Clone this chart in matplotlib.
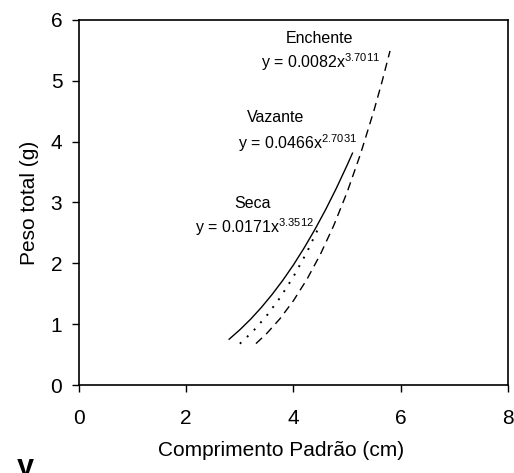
import matplotlib
matplotlib.use("Agg")
import matplotlib.pyplot as plt

plt.rcParams['font.family'] = ['Liberation Sans', 'DejaVu Sans']
plt.rcParams['mathtext.fontset'] = 'custom'
plt.rcParams['mathtext.rm'] = 'Liberation Sans'
plt.rcParams['mathtext.it'] = 'Liberation Sans'

# Points
vazante_x = [2.8, 3.0, 3.2, 3.4, 3.6, 3.8, 4.0, 4.2, 4.4, 4.6, 4.8, 5.0, 5.1]
vazante_y = [0.753, 0.908, 1.081, 1.274, 1.487, 1.720, 1.975, 2.255, 2.557, 2.883, 3.235, 3.612, 3.81]

enchente_x = [3.3, 3.5, 3.75, 4.0, 4.25, 4.5, 4.75, 5.0, 5.25, 5.5, 5.65, 5.8]
enchente_y = [0.681, 0.846, 1.092, 1.387, 1.736, 2.145, 2.620, 3.168, 3.797, 4.509, 4.98, 5.49]

seca_x = [3.0, 3.25, 3.5, 3.75, 4.0, 4.25, 4.5]
seca_y = [0.679, 0.888, 1.139, 1.435, 1.782, 2.182, 2.643]

x_ticks = [0, 2, 4, 6, 8]
y_ticks = [0, 1, 2, 3, 4, 5, 6]

labels = ['Enchente', 'Vazante', 'Seca']
equations = ['y = 0.0082x$^{3.7011}$', 'y = 0.0466x$^{2.7031}$', 'y = 0.0171x$^{3.3512}$']

fig = plt.figure(figsize=(5.14, 4.73), dpi=100)
ax = fig.add_axes([0.1537, 0.186, 0.8346, 0.772])

ax.plot(vazante_x, vazante_y, color='black', lw=1.0, linestyle='-')
ax.plot(seca_x, seca_y, color='black', lw=1.4, linestyle=(0, (1, 4)))
ax.plot(enchente_x, enchente_y, color='black', lw=1.0, linestyle=(0, (6, 4)))

ax.set_xlim(0, 8)
ax.set_ylim(0, 6)
ax.set_xticks(x_ticks)
ax.set_yticks(y_ticks)
ax.tick_params(direction='out', length=5, width=1, labelsize=15)
ax.tick_params(axis='x', pad=12)
ax.tick_params(axis='y', pad=7)
for s in ax.spines.values():
    s.set_linewidth(1.2)

ax.set_ylabel('Peso total (g)', fontsize=15, labelpad=8)
fig.text(0.547, 0.048, 'Comprimento Padrão (cm)', fontsize=15, ha='center', va='center')

# annotations
ax.text(4.49, 5.69, labels[0], fontsize=11.5, ha='center', va='center')
ax.text(4.51, 5.30, equations[0], fontsize=11.5, ha='center', va='center')
ax.text(3.67, 4.39, labels[1], fontsize=11.5, ha='center', va='center')
ax.text(4.08, 3.98, equations[1], fontsize=11.5, ha='center', va='center')
ax.text(3.23, 2.99, labels[2], fontsize=11.5, ha='center', va='center')
ax.text(3.28, 2.60, equations[2], fontsize=11.5, ha='center', va='center')

fig.text(0.033, 0.042, 'y', fontsize=22, fontweight='bold', ha='left', va='top')

fig.savefig('out.png', dpi=100)
